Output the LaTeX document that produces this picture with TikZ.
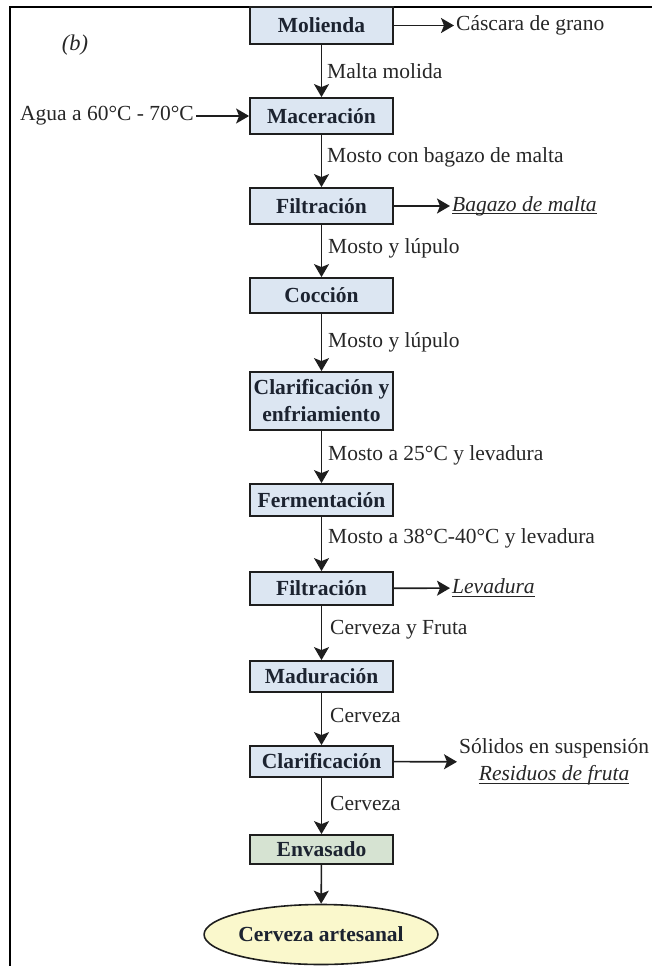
\documentclass[tikz,border=0pt]{standalone}
\usepackage{fontspec}
\setmainfont{Liberation Serif}
\usetikzlibrary{arrows.meta,shapes.geometric}
\definecolor{boxblue}{HTML}{DCE6F2}
\definecolor{boxgreen}{HTML}{D6E3D2}
\definecolor{ovalyellow}{HTML}{FAF8CC}
\definecolor{edge}{HTML}{1E1E1E}
\definecolor{ink}{HTML}{262626}
\definecolor{boldink}{HTML}{1C2330}
% underline drawn just below the baseline, through the descenders
\newcommand{\lineunder}[1]{\leavevmode\setbox0=\hbox{#1}\rlap{\rule[-3pt]{\wd0}{0.9pt}}\box0}

\begin{document}
\begin{tikzpicture}[x=1pt,y=-1pt,
  every node/.style={text=ink},
  base/.style={font=\fontsize{21.5}{27}\selectfont},
  stage/.style={draw=edge, line width=1.8pt, fill=boxblue, minimum width=143pt,
    inner sep=0pt, align=center, text=boldink, font=\fontsize{21.5}{27}\selectfont\bfseries},
  flow/.style={draw=edge, line width=1.6pt, -{Stealth[length=13pt,width=15pt,inset=3pt]}},
  lbl/.style={base, anchor=west, inner sep=0pt},
  side/.style={base, anchor=west, inner sep=2pt},
  frameline/.style={draw=black, line width=2.2pt}]

\useasboundingbox (0,0) rectangle (652,966);

% page frame (left and top edges)
\draw[frameline] (10,966) -- (10,7) -- (652,7);

\node[base, font=\fontsize{22.5}{27}\selectfont\itshape] (tag) at (75,45) {(b)};

% process stages
\node[stage, minimum height=37pt] (mol) at (321.5,25.5) {Molienda};
\node[stage, minimum height=36pt] (mac) at (321.5,116) {Maceración};
\node[stage, minimum height=36pt] (fil1) at (321.5,206) {Filtración};
\node[stage, minimum height=35pt] (coc) at (321.5,295.5) {Cocción};
\node[stage, minimum height=58pt] (cla1) at (321.5,401) {Clarificación y\\enfriamiento};
\node[stage, minimum height=32pt] (fer) at (321.5,500) {Fermentación};
\node[stage, minimum height=33pt] (fil2) at (321.5,588.5) {Filtración};
\node[stage, minimum height=31pt] (mad) at (321.5,676.5) {Maduración};
\node[stage, minimum height=31pt] (cla2) at (321.5,761.5) {Clarificación};
\node[stage, minimum height=29pt, fill=boxgreen] (env) at (321.5,849.5) {Envasado};
\node[draw=edge, line width=1.6pt, fill=ovalyellow, ellipse, minimum width=188pt,
  minimum height=60pt, inner sep=0pt, text=boldink,
  font=\fontsize{21.5}{27}\selectfont\bfseries]
  (prod) at (321,934.5) {Cerveza artesanal};

% main flow
\draw[flow] (mol) -- (mac);
\draw[flow] (mac) -- (fil1);
\draw[flow] (fil1) -- (coc);
\draw[flow] (coc) -- (cla1);
\draw[flow] (cla1) -- (fer);
\draw[flow] (fer) -- (fil2);
\draw[flow] (fil2) -- (mad);
\draw[flow] (mad) -- (cla2);
\draw[flow] (cla2) -- (env);
\draw[flow] (env) -- (prod);

% stream labels
\node[lbl] (s1) at (327,71) {Malta molida};
\node[lbl] (s2) at (327,157) {Mosto con bagazo de malta};
\node[lbl] (s3) at (328,248) {Mosto y lúpulo};
\node[lbl] (s4) at (328,342) {Mosto y lúpulo};
\node[lbl] (s5) at (328,455) {Mosto a 25°C y levadura};
\node[lbl] (s6) at (328,538) {Mosto a 38°C-40°C y levadura};
\node[lbl] (s7) at (330,630) {Cerveza y Fruta};
\node[lbl] (s8) at (330,715) {Cerveza};
\node[lbl] (s9) at (330,803) {Cerveza};

% inputs and by-products
\node[base, anchor=east, inner sep=2pt] (agua) at (196,116) {Agua a 60°C - 70°C};
\draw[flow] (agua) -- (mac);

\node[side] (casc) at (454,25.5) {Cáscara de grano};
\draw[flow] (mol) -- (casc);

\node[side] (bag) at (450,206) {\lineunder{\itshape Bagazo de malta}};
\draw[flow] (fil1) -- (bag);

\node[side] (lev) at (450,588) {\lineunder{\itshape Levadura}};
\draw[flow] (fil2) -- (lev);

\node[base, anchor=west, inner sep=2pt, align=center] (sol) at (457,762)
  {Sólidos en suspensión\\\lineunder{\itshape Residuos de fruta}};
\draw[flow] (cla2) -- (sol);

\end{tikzpicture}
\end{document}
